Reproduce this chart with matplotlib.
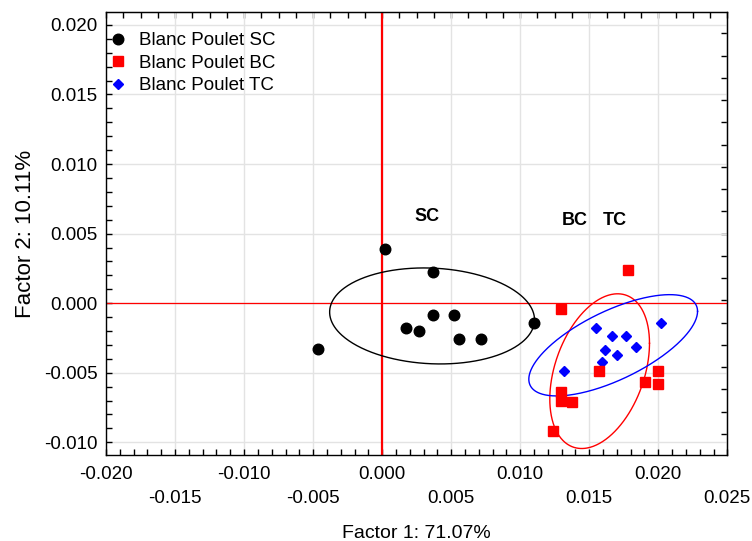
import numpy as np
import matplotlib
matplotlib.use('Agg')
import matplotlib.pyplot as plt
from matplotlib.ticker import MultipleLocator, FixedLocator

plt.rcParams['font.family'] = ['Liberation Sans', 'DejaVu Sans']
plt.rcParams['axes.unicode_minus'] = False

# --- data ---
sc_x = [0.00017, 0.00365, 0.00365, 0.00521, 0.00170, 0.00269, 0.00559, 0.00714, 0.01103, -0.00468]
sc_y = [0.00392, 0.00222, -0.00085, -0.00085, -0.00178, -0.00200, -0.00255, -0.00255, -0.00142, -0.00331]

bc_x = [0.01782, 0.01297, 0.01569, 0.01997, 0.01901, 0.01997, 0.01297, 0.01297, 0.01376, 0.01239]
bc_y = [0.00241, -0.00042, -0.00485, -0.00485, -0.00564, -0.00581, -0.00636, -0.00700, -0.00712, -0.00921]

tc_x = [0.01550, 0.01666, 0.01763, 0.02019, 0.01840, 0.01611, 0.01703, 0.01589, 0.01318]
tc_y = [-0.00178, -0.00236, -0.00236, -0.00142, -0.00313, -0.00334, -0.00370, -0.00425, -0.00490]

series_names = ['Blanc Poulet SC', 'Blanc Poulet BC', 'Blanc Poulet TC']
group_labels = ['SC', 'BC', 'TC']

# ellipse half-extents along x / y and tilt (correlation-like) per group
ell_hx = [0.00742, 0.00361, 0.00611]
ell_hy = [0.00345, 0.00556, 0.00364]
ell_rho = [-0.08, 0.36, 0.67]

# group label positions
label_x = [0.00325, 0.01393, 0.01683]
label_y = [0.00620, 0.00595, 0.00595]

x_ticks = [-0.020, -0.015, -0.010, -0.005, 0.000, 0.005, 0.010, 0.015, 0.020, 0.025]
y_ticks = [-0.010, -0.005, 0.000, 0.005, 0.010, 0.015, 0.020]

fig = plt.figure(figsize=(7.52, 5.41), dpi=100)
ax = fig.add_axes([0.141, 0.159, 0.8262, 0.8181])

ax.set_xlim(-0.020, 0.025)
ax.set_ylim(-0.01091, 0.0209)

ax.grid(True, color='#e3e3e3', linewidth=1.0, zorder=0)
ax.set_axisbelow(True)

ax.axvline(0.0, color='red', linewidth=1.6, zorder=1)
ax.axhline(0.0, color='red', linewidth=0.9, zorder=1)

groups = [(sc_x, sc_y), (bc_x, bc_y), (tc_x, tc_y)]
colors = ['black', 'red', 'blue']
markers = ['o', 's', 'D']
msizes = [7.6, 7.4, 5.3]
zorders = [4, 5, 4]

# ellipses centred on the group means
t = np.linspace(0, 2 * np.pi, 400)
for (gx, gy), c, hx, hy, rho in zip(groups, colors, ell_hx, ell_hy, ell_rho):
    cx, cy = np.mean(gx), np.mean(gy)
    ex = cx + hx * np.cos(t)
    ey = cy + hy * (rho * np.cos(t) + np.sqrt(1 - rho ** 2) * np.sin(t))
    ax.plot(ex, ey, color=c, linewidth=1.0, zorder=2)

handles = []
for (gx, gy), c, m, ms, z, name in zip(groups, colors, markers, msizes, zorders, series_names):
    h, = ax.plot(gx, gy, linestyle='none', marker=m, markersize=ms,
                 color=c, markeredgecolor=c, zorder=z, label=name)
    handles.append(h)

for lx, ly, txt in zip(label_x, label_y, group_labels):
    ax.text(lx, ly, txt, fontsize=13, fontweight='bold', ha='center', va='center', zorder=6)

# ticks
ax.xaxis.set_major_locator(FixedLocator(x_ticks))
ax.set_xticklabels([('' if i % 2 == 0 else '\n') + f'{v:.3f}' for i, v in enumerate(x_ticks)],
                   linespacing=1.5)
ax.xaxis.set_minor_locator(MultipleLocator(0.001))
ax.yaxis.set_major_locator(FixedLocator(y_ticks))
ax.set_yticklabels([f'{v:.3f}' for v in y_ticks])
ax.yaxis.set_minor_locator(MultipleLocator(0.001))

ax.tick_params(axis='x', which='both', direction='in', length=4, width=1, labelsize=13.5, pad=8,
               top=False)
ax.tick_params(axis='y', which='both', direction='in', length=4, width=1, labelsize=13.5, pad=6,
               right=False)

top = ax.secondary_xaxis('top')
top.set_xticks(np.arange(-0.020, 0.02501, 0.00125))
top.tick_params(direction='in', length=4, width=1, labeltop=False)
right = ax.secondary_yaxis('right')
right.set_yticks(np.arange(-0.0094, 0.0206, 0.0016))
right.tick_params(direction='in', length=4, width=1, labelright=False)
top.spines['top'].set_color('#333333')
right.spines['right'].set_color('#333333')

for s in ax.spines.values():
    s.set_linewidth(1.0)

ax.set_xlabel('Factor 1: 71.07%', fontsize=14, labelpad=13)
ax.set_ylabel('Factor 2: 10.11%', fontsize=16, labelpad=6)

ax.legend(handles=handles, loc='upper left', frameon=False, fontsize=13.5,
          bbox_to_anchor=(-0.008, 0.972), handlelength=1.0, handletextpad=0.6,
          labelspacing=0.28, borderaxespad=0.0, borderpad=0.4)

fig.savefig('out.png', dpi=100)
